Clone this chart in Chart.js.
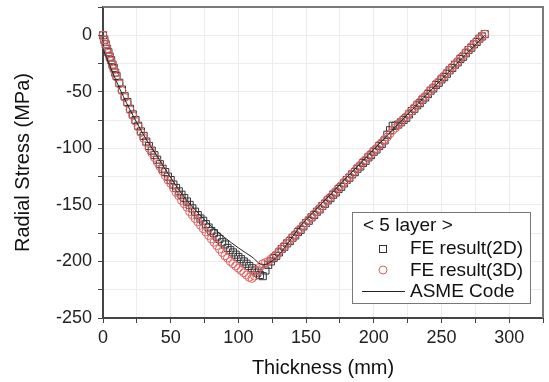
<!DOCTYPE html>
<html>
<head>
<meta charset="utf-8">
<script src="https://cdn.jsdelivr.net/npm/chart.js@4.4.1/dist/chart.umd.min.js"></script>
<style>
  html, body { margin: 0; padding: 0; background: #fff; }
  #wrap { width: 549px; height: 382px; }
</style>
</head>
<body>
<div id="wrap"><canvas id="stressChart" width="549" height="382"></canvas></div>
<script>
// ======= Data =======
const thickness = [0, 1, 2, 3, 4, 5, 6, 7, 8, 9, 10,
    12, 14, 16, 18, 20, 22, 24, 26, 28, 30, 32, 34, 36, 38, 40, 42, 44, 46, 48, 50,
    52, 54, 56, 58, 60, 62, 64, 66, 68, 70, 72, 74, 76, 78, 80, 82, 84, 86, 88, 90,
    92, 94, 96, 98, 100, 102, 104, 106, 108, 110, 112, 114, 116, 118, 120, 122, 124, 126, 128, 130,
    132, 134, 136, 138, 140, 142, 144, 146, 148, 150, 152, 154, 156, 158, 160, 162, 164, 166, 168, 170,
    172, 174, 176, 178, 180, 182, 184, 186, 188, 190, 192, 194, 196, 198, 200, 202, 204, 206, 208, 210,
    212, 214, 216, 218, 220, 222, 224, 226, 228, 230, 232, 234, 236, 238, 240, 242, 244, 246, 248, 250,
    252, 254, 256, 258, 260, 262, 264, 266, 268, 270, 272, 274, 276, 278, 280, 282];

const stress2D = [0, -4, -8, -12, -15, -19, -22, -26, -29, -33, -36,
    -42, -48, -54, -59, -65, -70, -75, -80, -85, -89, -94, -98, -102, -106, -110, -114, -118, -121, -125, -128,
    -132, -135, -138, -141, -144, -147, -150, -153, -156, -159, -162, -164, -167, -170, -173, -175, -178, -180, -183, -185,
    -188, -190, -192, -194, -196, -198, -200, -202, -204, -206, -208, -210, -212, -213, -208, -203, -200, -197, -195, -192,
    -189, -187, -184, -182, -179, -177, -174, -172, -169, -166, -164, -161, -159, -156, -154, -151, -149, -146, -144, -141,
    -139, -136, -134, -131, -128, -126, -123, -121, -118, -116, -113, -111, -108, -106, -103, -101, -98, -96, -93, -88,
    -84, -80, -80, -79, -77, -75, -73, -70, -67, -65, -62, -60, -57, -55, -52, -49, -47, -44, -42, -39,
    -37, -34, -31, -29, -26, -24, -21, -19, -16, -13, -11, -8, -6, -3, -1, 1];

const stress3D = [0, -4, -8, -12, -16, -19, -23, -26, -30, -33, -37,
    -43, -49, -55, -60, -66, -71, -76, -81, -86, -91, -95, -100, -104, -108, -112, -116, -120, -124, -128, -131,
    -135, -139, -142, -146, -149, -152, -156, -159, -162, -165, -168, -171, -174, -177, -180, -183, -186, -189, -192, -195,
    -197, -200, -202, -204, -206, -208, -210, -212, -214, -215, -213, -208, -205, -202, -201, -200, -198, -196, -194, -191,
    -189, -186, -184, -181, -179, -176, -173, -171, -168, -166, -163, -161, -158, -156, -153, -151, -148, -145, -143, -140,
    -138, -135, -133, -130, -128, -125, -123, -120, -117, -115, -112, -110, -107, -105, -102, -100, -97, -95, -92, -90,
    -87, -84, -82, -79, -77, -74, -72, -69, -67, -64, -61, -59, -56, -54, -51, -49, -46, -43, -41, -38,
    -36, -33, -31, -28, -26, -23, -20, -18, -15, -13, -10, -8, -5, -3, -1, 1];

const asmeThickness = [0, 5, 10, 15, 20, 30, 40, 50, 60, 70, 80, 90, 100, 110, 118, 150, 200, 250, 282];
const asmeStress = [-12, -27, -41, -54, -66, -88, -107, -126, -143, -157, -169, -179, -188, -196, -203, -163, -101, -39, 0];

const xTicks = [0, 50, 100, 150, 200, 250, 300];
const yTicks = [0, -50, -100, -150, -200, -250];

const toPoints = (xs, ys) => xs.map((x, i) => ({ x: x, y: ys[i] }));

// ======= Plugins =======
const FONT = "'Liberation Sans', Arial, sans-serif";

const framePlugin = {
    id: 'frame',
    afterDatasetsDraw(chart) {
        const { ctx, chartArea: a } = chart;
        ctx.save();
        ctx.strokeStyle = '#7a7a7a';
        ctx.lineWidth = 2;
        ctx.beginPath();
        ctx.moveTo(a.left, a.top);
        ctx.lineTo(a.right, a.top);
        ctx.lineTo(a.right, a.bottom);
        ctx.stroke();
        ctx.restore();
    }
};

const legendPlugin = {
    id: 'boxLegend',
    afterDraw(chart) {
        const ctx = chart.ctx;
        const bx = 352, by = 212, bw = 178, bh = 91;
        ctx.save();
        ctx.fillStyle = '#fff';
        ctx.fillRect(bx, by, bw, bh);
        ctx.strokeStyle = '#777';
        ctx.lineWidth = 1;
        ctx.strokeRect(bx + 0.5, by + 0.5, bw, bh);

        ctx.font = '19px ' + FONT;
        ctx.fillStyle = '#111';
        ctx.textBaseline = 'middle';
        ctx.fillText('< 5 layer >', 363, 226);

        // square
        ctx.strokeStyle = '#333';
        ctx.strokeRect(379.5, 245.5, 7, 7);
        ctx.fillText('FE result(2D)', 410, 249);

        // circle
        ctx.strokeStyle = '#e06060';
        ctx.beginPath();
        ctx.arc(383, 270, 4, 0, Math.PI * 2);
        ctx.stroke();
        ctx.fillText('FE result(3D)', 410, 271);

        // line
        ctx.strokeStyle = '#222';
        ctx.beginPath();
        ctx.moveTo(362, 291.5);
        ctx.lineTo(405, 291.5);
        ctx.stroke();
        ctx.fillText('ASME Code', 410, 292);
        ctx.restore();
    }
};

// ======= Chart =======
const ctx = document.getElementById('stressChart').getContext('2d');
new Chart(ctx, {
    type: 'scatter',
    data: {
        datasets: [
            {
                label: 'ASME Code',
                type: 'line',
                data: toPoints(asmeThickness, asmeStress),
                borderColor: '#222',
                borderWidth: 1,
                pointRadius: 0,
                cubicInterpolationMode: 'monotone',
                fill: false
            },
            {
                label: 'FE result(3D)',
                data: toPoints(thickness, stress3D),
                pointStyle: 'circle',
                pointRadius: 4,
                borderColor: '#e06060',
                backgroundColor: 'rgba(255,255,255,0)',
                borderWidth: 1,
                clip: 8
            },
            {
                label: 'FE result(2D)',
                data: toPoints(thickness, stress2D),
                pointStyle: 'rect',
                pointRadius: 5,
                borderColor: '#333',
                backgroundColor: 'rgba(255,255,255,0)',
                borderWidth: 1,
                clip: 8
            }
        ]
    },
    options: {
        responsive: false,
        animation: false,
        devicePixelRatio: 1,
        layout: { padding: { left: 0, right: 5, top: 7, bottom: 0 } },
        plugins: {
            legend: { display: false },
            tooltip: { enabled: false }
        },
        scales: {
            x: {
                type: 'linear',
                min: 0,
                max: 325,
                afterFit: (scale) => {
                    scale.height = 64;
                    scale.paddingLeft = 0;
                    scale.paddingRight = 0;
                },
                afterBuildTicks: (scale) => {
                    const t = [];
                    for (let v = 0; v <= 325; v += 25) t.push({ value: v });
                    scale.ticks = t;
                },
                ticks: {
                    autoSkip: false,
                    maxRotation: 0,
                    padding: 4,
                    color: '#222',
                    font: { family: FONT, size: 18 },
                    callback: (v) => xTicks.includes(v) ? String(v) : ''
                },
                grid: { color: '#ececec', tickColor: '#444', tickLength: 5, lineWidth: 1 },
                border: { display: true, color: '#444', width: 2 },
                title: {
                    display: true,
                    text: 'Thickness (mm)',
                    color: '#111',
                    font: { family: FONT, size: 20 },
                    padding: { top: 0, bottom: 2 }
                }
            },
            y: {
                type: 'linear',
                min: -250,
                max: 25,
                afterFit: (scale) => {
                    scale.width = 103;
                    scale.paddingTop = 0;
                    scale.paddingBottom = 0;
                },
                afterBuildTicks: (scale) => {
                    const t = [];
                    for (let v = -250; v <= 25; v += 25) t.push({ value: v });
                    scale.ticks = t;
                },
                ticks: {
                    autoSkip: false,
                    padding: 6,
                    color: '#222',
                    font: { family: FONT, size: 18 },
                    callback: (v) => yTicks.includes(v) ? String(v) : ''
                },
                grid: { color: '#ececec', tickColor: '#444', tickLength: 5, lineWidth: 1 },
                border: { display: true, color: '#444', width: 2 },
                title: {
                    display: true,
                    text: 'Radial Stress (MPa)',
                    color: '#111',
                    font: { family: FONT, size: 20 },
                    padding: { top: 11, bottom: 0 }
                }
            }
        }
    },
    plugins: [framePlugin, legendPlugin]
});
</script>
</body>
</html>
